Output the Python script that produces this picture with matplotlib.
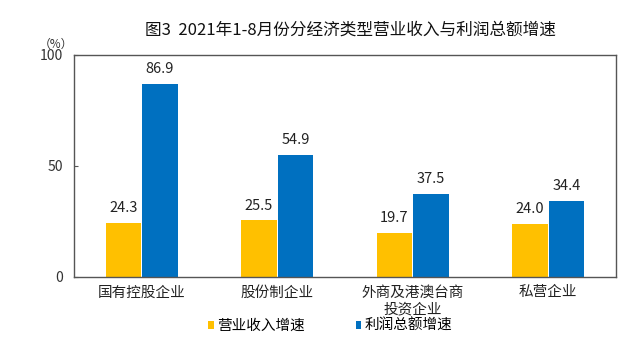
import matplotlib
matplotlib.use("Agg")
import matplotlib.pyplot as plt
import numpy as np

plt.rcParams['font.family'] = ['Noto Sans CJK SC', 'DejaVu Sans']

categories = ['国有控股企业', '股份制企业', '外商及港澳台商\n投资企业', '私营企业']
revenue = [24.3, 25.5, 19.7, 24.0]
profit = [86.9, 54.9, 37.5, 34.4]
series_names = ['营业收入增速', '利润总额增速']
title = '图3  2021年1-8月份分经济类型营业收入与利润总额增速'

fig = plt.figure(figsize=(6.4, 3.64), dpi=100)
ax = fig.add_axes([74/640, 1-277/364, 542/640, 222/364])

x = np.arange(len(categories))
w = 0.26
b1 = ax.bar(x - 0.135, revenue, w, color='#FFC000', label=series_names[0])
b2 = ax.bar(x + 0.135, profit, w, color='#0070C0', label=series_names[1])

for rect, v in zip(b1, revenue):
    ax.text(rect.get_x() + rect.get_width()/2, v + 3.5, f'{v:.1f}', ha='center', va='bottom', fontsize=10.5, color='#222222')
for rect, v in zip(b2, profit):
    ax.text(rect.get_x() + rect.get_width()/2, v + 3.5, f'{v:.1f}', ha='center', va='bottom', fontsize=10.5, color='#222222')

ax.set_xlim(-0.5, 3.5)
ax.set_ylim(0, 100)
ax.set_yticks([0, 50, 100])
ax.set_yticklabels(['0', '50', '100'], fontsize=10, color='#333333')
ax.set_xticks(x)
ax.set_xticklabels(categories, fontsize=10.5, color='#222222', linespacing=1.25)
ax.tick_params(axis='x', length=0, pad=6)
ax.tick_params(axis='y', direction='in', length=3, pad=8, color='#555555')
for s in ax.spines.values():
    s.set_color('#555555')
    s.set_linewidth(1.0)

fig.text(350/640, 1-30/364, title, ha='center', va='center', fontsize=12, color='#111111')
fig.text(56/640, 1-44/364, '（%）', ha='center', va='center', fontsize=8.5, color='#333333')

leg = fig.legend(handles=[b1, b2], labels=series_names, loc='center', bbox_to_anchor=(330/640, 1-326/364),
                 ncol=2, frameon=False, fontsize=10.5, handlelength=0.4, handleheight=0.4,
                 handletextpad=0.2, columnspacing=3.5)

fig.savefig('out.png', dpi=100, facecolor='white')
